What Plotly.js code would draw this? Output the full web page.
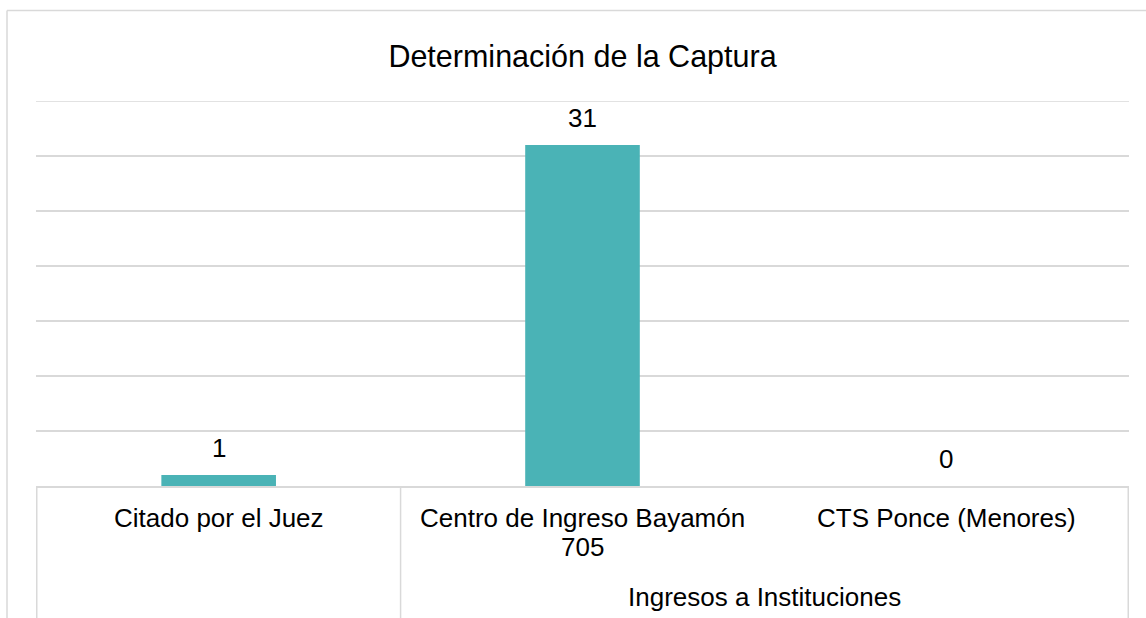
<!DOCTYPE html>
<html>
<head>
<meta charset="utf-8">
<script src="https://cdn.plot.ly/plotly-3.0.1.min.js"></script>
<style>html,body{margin:0;padding:0;background:#fff;}#chart{width:1146px;height:618px;}</style>
</head>
<body>
<div id="chart"></div>
<script>
// ---- data ----
const categories = ["Citado por el Juez", "Centro de Ingreso Bayamón 705", "CTS Ponce (Menores)"];
const labelLines = [["Citado por el Juez"], ["Centro de Ingreso Bayamón", "705"], ["CTS Ponce (Menores)"]];
const groups = ["", "Ingresos a Instituciones", "Ingresos a Instituciones"];
const values = [1, 31, 0];
const chartTitle = "Determinación de la Captura";
const yMax = 35, yStep = 5;

// ---- layout constants (pixels) ----
const W = 1146, H = 618;
const L = 36, R = 1129, T = 101, B = 486;
const plotH = B - T, plotW = R - L;
const py = p => (B - p) / plotH;      // pixel y -> paper y
const px = p => (p - L) / plotW;      // pixel x -> paper x
const FONT = "Liberation Sans, Arial, Helvetica, sans-serif";
const GRID = "#d9d9d9";

const annotations = [];
// data labels
values.forEach((v, i) => {
  annotations.push({x: categories[i], y: v, xref: "x", yref: "y", text: String(v),
    showarrow: false, yanchor: "bottom", yshift: 10, font: {family: FONT, size: 26, color: "#000"}});
});
// category labels
labelLines.forEach((lines, i) => {
  lines.forEach((t, j) => {
    annotations.push({x: i, y: py(528 + j * 29), xref: "x", yref: "paper", text: t,
      showarrow: false, yanchor: "bottom", yshift: -7, font: {family: FONT, size: 26, color: "#000"}});
  });
});
// group labels
const seen = {};
groups.forEach((g, i) => { if (g) { (seen[g] = seen[g] || []).push(i); } });
Object.keys(seen).forEach(g => {
  const idx = seen[g];
  const mid = (idx[0] + idx[idx.length - 1]) / 2;
  annotations.push({x: mid, y: py(607), xref: "x", yref: "paper", text: g,
    showarrow: false, yanchor: "bottom", yshift: -7, font: {family: FONT, size: 26, color: "#000"}});
});

// divider lines in the axis table
const shapes = [];
const dividers = [-0.5];
groups.forEach((g, i) => { if (i > 0 && g !== groups[i - 1]) dividers.push(i - 0.5); });
dividers.push(categories.length - 0.5);
dividers.forEach(d => {
  shapes.push({type: "line", xref: "x", yref: "paper", x0: d, x1: d, y0: 0, y1: py(H + 20),
    line: {color: GRID, width: 1.5}});
});
// top gridline at the axis maximum
shapes.push({type: "line", xref: "paper", yref: "y", x0: 0, x1: 1, y0: yMax, y1: yMax,
  line: {color: GRID, width: 1.5}, layer: "below"});
// outer chart border (left & top visible)
shapes.push({type: "line", xref: "paper", yref: "paper", x0: px(7), x1: px(7), y0: py(10.5), y1: py(H + 20), line: {color: GRID, width: 1.5}});
shapes.push({type: "line", xref: "paper", yref: "paper", x0: px(7), x1: px(W + 20), y0: py(10.5), y1: py(10.5), line: {color: GRID, width: 1.5}});

const trace = {
  type: "bar", x: categories, y: values,
  marker: {color: "#4AB3B6"}, hoverinfo: "x+y"
};

const layout = {
  width: W, height: H,
  margin: {l: L, r: W - R, t: T, b: H - B, pad: 0},
  paper_bgcolor: "#fff", plot_bgcolor: "#fff",
  showlegend: false,
  bargap: 0.685,
  title: {text: chartTitle, font: {family: FONT, size: 30.5, color: "#000"},
    x: 0.5, xref: "paper", y: 1 - 56 / H, yref: "container", yanchor: "middle"},
  xaxis: {type: "category", showticklabels: false, ticks: "", showgrid: false,
    showline: true, linecolor: GRID, linewidth: 1.5, zeroline: false, fixedrange: true},
  yaxis: {range: [0, yMax], dtick: yStep, showticklabels: false, ticks: "", showgrid: true,
    gridcolor: GRID, gridwidth: 1.5, zeroline: false, showline: false, fixedrange: true},
  annotations: annotations,
  shapes: shapes
};

Plotly.newPlot("chart", [trace], layout, {displayModeBar: false, staticPlot: true});
</script>
</body>
</html>
